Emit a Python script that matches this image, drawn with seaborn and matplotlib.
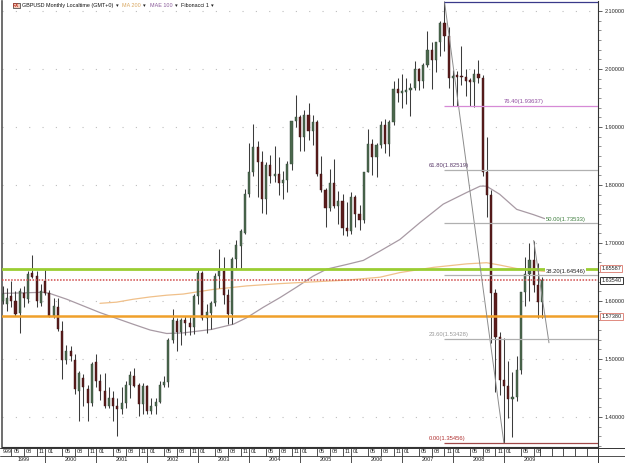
import numpy as np
import pandas as pd
import matplotlib
matplotlib.use("Agg")
import matplotlib.pyplot as plt
import matplotlib.transforms as mtransforms
from matplotlib.lines import Line2D
import seaborn as sns

# monthly GBPUSD candles, first one is Mar 1999, last one Oct 2009
first_month = "1999-03"
opens = [1.600, 1.594, 1.609, 1.600, 1.580, 1.614, 1.603, 1.649, 1.643, 1.597,
         1.634, 1.614, 1.574, 1.590, 1.548, 1.499, 1.514, 1.499, 1.445, 1.468, 1.448, 1.425,
         1.494, 1.462, 1.445, 1.419, 1.433, 1.419, 1.413, 1.425, 1.455, 1.471, 1.455, 1.422,
         1.453, 1.410, 1.419, 1.426, 1.456, 1.461, 1.532, 1.566, 1.546, 1.568, 1.562, 1.555,
         1.609, 1.649, 1.571, 1.580, 1.597, 1.643, 1.652, 1.610, 1.577, 1.672, 1.695, 1.718,
         1.784, 1.822, 1.866, 1.840, 1.775, 1.834, 1.815, 1.819, 1.803, 1.809, 1.837, 1.910,
         1.918, 1.883, 1.921, 1.893, 1.909, 1.819, 1.792, 1.760, 1.804, 1.764, 1.772, 1.725,
         1.720, 1.779, 1.750, 1.739, 1.822, 1.870, 1.848, 1.869, 1.904, 1.871, 1.909, 1.966,
         1.959, 1.961, 1.963, 1.967, 2.000, 1.980, 2.007, 2.033, 2.015, 2.046, 2.080, 2.057,
         1.985, 1.988, 1.987, 1.986, 1.980, 1.978, 1.991, 1.985, 1.822, 1.783, 1.613, 1.538,
         1.463, 1.454, 1.431, 1.434, 1.481, 1.616, 1.646, 1.670, 1.628, 1.598]
highs = [1.626, 1.623, 1.635, 1.617, 1.623, 1.626, 1.652, 1.679, 1.652, 1.629,
         1.656, 1.619, 1.606, 1.606, 1.566, 1.525, 1.522, 1.508, 1.479, 1.474, 1.456, 1.494,
         1.508, 1.474, 1.476, 1.451, 1.445, 1.433, 1.451, 1.462, 1.479, 1.485, 1.459, 1.459,
         1.456, 1.433, 1.432, 1.462, 1.471, 1.537, 1.586, 1.571, 1.571, 1.575, 1.573, 1.612,
         1.655, 1.652, 1.594, 1.600, 1.648, 1.689, 1.675, 1.620, 1.675, 1.706, 1.724, 1.793,
         1.872, 1.905, 1.875, 1.859, 1.840, 1.851, 1.867, 1.849, 1.824, 1.842, 1.911, 1.955,
         1.920, 1.930, 1.941, 1.920, 1.912, 1.850, 1.795, 1.827, 1.845, 1.789, 1.784, 1.770,
         1.788, 1.783, 1.765, 1.822, 1.897, 1.879, 1.872, 1.911, 1.913, 1.912, 1.979, 1.985,
         1.991, 1.984, 1.975, 2.014, 2.002, 2.011, 2.066, 2.047, 2.047, 2.083, 2.116, 2.072,
         1.999, 1.996, 2.040, 2.000, 1.985, 2.000, 2.016, 1.990, 1.882, 1.792, 1.620, 1.547,
         1.537, 1.497, 1.478, 1.505, 1.616, 1.675, 1.700, 1.704, 1.665, 1.642]
lows = [1.594, 1.583, 1.589, 1.574, 1.545, 1.589, 1.597, 1.640, 1.589, 1.591,
        1.611, 1.572, 1.571, 1.549, 1.465, 1.491, 1.497, 1.439, 1.393, 1.419, 1.393, 1.419,
        1.451, 1.430, 1.416, 1.416, 1.393, 1.367, 1.405, 1.416, 1.433, 1.451, 1.402, 1.405,
        1.405, 1.405, 1.406, 1.425, 1.451, 1.451, 1.528, 1.514, 1.525, 1.541, 1.542, 1.543,
        1.595, 1.568, 1.544, 1.551, 1.591, 1.623, 1.595, 1.560, 1.560, 1.655, 1.655, 1.715,
        1.779, 1.816, 1.780, 1.752, 1.750, 1.803, 1.806, 1.783, 1.775, 1.788, 1.826, 1.900,
        1.859, 1.859, 1.877, 1.869, 1.815, 1.788, 1.727, 1.756, 1.760, 1.733, 1.714, 1.712,
        1.716, 1.727, 1.723, 1.734, 1.822, 1.817, 1.813, 1.864, 1.856, 1.850, 1.903, 1.943,
        1.933, 1.939, 1.919, 1.964, 1.964, 1.967, 2.004, 1.965, 1.995, 2.022, 2.031, 1.967,
        1.937, 1.937, 1.972, 1.953, 1.937, 1.934, 1.976, 1.816, 1.744, 1.528, 1.443, 1.438,
        1.35456, 1.399, 1.366, 1.428, 1.474, 1.592, 1.600, 1.616, 1.571, 1.571]
closes = [1.612, 1.606, 1.600, 1.577, 1.617, 1.606, 1.646, 1.641, 1.600, 1.617,
          1.614, 1.574, 1.591, 1.551, 1.499, 1.514, 1.505, 1.448, 1.476, 1.451, 1.425, 1.491,
          1.462, 1.445, 1.419, 1.433, 1.419, 1.413, 1.425, 1.456, 1.472, 1.453, 1.422, 1.453,
          1.410, 1.419, 1.426, 1.456, 1.461, 1.533, 1.568, 1.546, 1.568, 1.562, 1.555, 1.609,
          1.649, 1.571, 1.581, 1.597, 1.643, 1.652, 1.610, 1.577, 1.672, 1.697, 1.721, 1.784,
          1.822, 1.866, 1.840, 1.775, 1.834, 1.815, 1.819, 1.803, 1.809, 1.837, 1.910, 1.918,
          1.883, 1.921, 1.893, 1.909, 1.819, 1.792, 1.760, 1.804, 1.764, 1.772, 1.725, 1.720,
          1.779, 1.750, 1.739, 1.822, 1.870, 1.848, 1.869, 1.904, 1.871, 1.909, 1.966, 1.959,
          1.961, 1.963, 1.967, 2.000, 1.980, 2.007, 2.033, 2.015, 2.046, 2.080, 2.057, 1.985,
          1.988, 1.987, 1.986, 1.980, 1.978, 1.991, 1.985, 1.822, 1.783, 1.613, 1.538, 1.463,
          1.454, 1.431, 1.434, 1.481, 1.616, 1.646, 1.670, 1.628, 1.598, 1.6354]

# indicator lines (candle index, price)
ma200_i = [22.9, 26.8, 30.7, 34.7, 38.6, 42.5, 49.6, 57.4, 65.3, 73.1, 81.0, 88.8, 93.5,
           101.4, 109.2, 113.9, 117.0, 121.0, 124.9, 127.6]
ma200_v = [1.596, 1.598, 1.603, 1.607, 1.610, 1.612, 1.620, 1.626, 1.630, 1.633, 1.636, 1.641,
           1.649, 1.658, 1.664, 1.666, 1.662, 1.656, 1.653, 1.651]
mae100_i = [-0.6, 9.5, 11.1, 15.1, 22.9, 26.8, 30.7, 34.7, 38.6, 42.5, 49.2, 54.3, 57.4, 61.3,
            65.3, 69.2, 73.1, 76.3, 81.0, 84.9, 88.8, 93.5, 98.2, 103.7, 109.2, 112.4, 113.9,
            117.0, 121.0, 124.9, 127.6]
mae100_v = [1.613, 1.615, 1.613, 1.603, 1.580, 1.570, 1.560, 1.550, 1.544, 1.545, 1.551, 1.560,
            1.571, 1.589, 1.606, 1.624, 1.643, 1.655, 1.663, 1.670, 1.686, 1.706, 1.735, 1.767,
            1.787, 1.798, 1.798, 1.784, 1.758, 1.749, 1.742]

# fibonacci retracement drawn from the Nov 2007 high to the Jan 2009 low
fib_from = 104
fib_to = 118
fib_high = 2.11609
fib_low = 1.35456
fib_pct = [100.0, 76.4, 61.8, 50.0, 38.2, 23.6, 0.0]
fib_colors = ["#3a3a8a", "#d68ad6", "#b0b0b0", "#b0b0b0", "#b0b0b0", "#b0b0b0", "#a04848"]
fib_text_colors = [None, "#8e4a9e", "#5a3a6a", "#3f7f3f", "#222222", "#9a9a9a", "#b03030"]
fib_text_side = [None, "right", "left", "far", "far", "left", "left"]
# trend line from the Aug 2009 high
trend_i = [125, 128.6]
trend_v = [1.7043, 1.528]

level_green = 1.65587
level_bid = 1.63540
level_orange = 1.57380

W, H = 625, 463
sns.set_style("white")
plt.rcParams["font.family"] = ["Liberation Sans", "DejaVu Sans"]

fig = plt.figure(figsize=(W / 100, H / 100), dpi=100)
ax = fig.add_axes([2 / W, 16 / H, 596 / W, 446 / H])
ax.set_xlim(-0.165, 140.14)
ax.set_ylim(1.3483, 2.1172)

df = pd.DataFrame({"open": opens, "high": highs, "low": lows, "close": closes})
df["i"] = np.arange(len(df))
df["up"] = df["close"] >= df["open"]

# candles
ax.vlines(df["i"], df["low"], df["high"], color="#3c3c3c", lw=0.75, zorder=3)
body = (df["close"] - df["open"]).abs().clip(lower=0.0025)
bottom = df[["open", "close"]].min(axis=1)
ax.bar(df["i"][df["up"]], body[df["up"]], bottom=bottom[df["up"]], width=0.5,
       color="#4b684c", edgecolor="#33483a", lw=0.3, zorder=4)
ax.bar(df["i"][~df["up"]], body[~df["up"]], bottom=bottom[~df["up"]], width=0.5,
       color="#5c1d1d", edgecolor="#3a1010", lw=0.3, zorder=4)

# moving averages
sns.lineplot(x=mae100_i, y=mae100_v, ax=ax, color="#a89aa4", lw=0.9, zorder=2)
sns.lineplot(x=ma200_i, y=ma200_v, ax=ax, color="#f0c08a", lw=0.9, zorder=2)

# horizontal levels
ax.axhline(level_green, color="#9acd32", lw=2.0, zorder=5)
ax.axhline(level_bid, color="#d04a4a", lw=1.1, ls=(0, (1, 1)), zorder=5)
ax.axhline(level_orange, color="#f0a02a", lw=1.8, zorder=5)

# fibonacci
xr = ax.get_xlim()[1]
ax.plot([fib_from, fib_to], [fib_high, fib_low], color="#8c8c8c", lw=0.7, zorder=6)
sns.lineplot(x=trend_i, y=trend_v, ax=ax, color="#8c8c8c", lw=0.7, zorder=6)
for pct, col, tcol, side in zip(fib_pct, fib_colors, fib_text_colors, fib_text_side):
    lvl = fib_low + (fib_high - fib_low) * pct / 100
    ax.hlines(lvl, fib_from, xr, color=col, lw=0.9, zorder=6)
    if tcol is None:
        continue
    label = f"{pct:.2f}({lvl:.5f})"
    if side == "left":
        ax.text(100.3, lvl + 0.004, label, color=tcol, fontsize=4.2, ha="left", va="bottom", zorder=7)
    elif side == "right":
        ax.text(127.3, lvl + 0.004, label, color=tcol, fontsize=4.2, ha="right", va="bottom", zorder=7)
    else:
        ax.text(127.8, lvl + 0.006, label, color=tcol, fontsize=4.2, ha="left", va="center", zorder=7,
                bbox=dict(fc="white", ec="none", pad=0.3))

# right price axis
ax.yaxis.tick_right()
ax.set_yticks(np.arange(1.4, 2.1001, 0.1))
ax.set_yticks(np.arange(1.35, 2.11, 0.1 / 6), minor=True)
ax.set_yticklabels([f"{v:.5f}" for v in np.arange(1.4, 2.1001, 0.1)], fontsize=4.0)
ax.tick_params(axis="y", which="major", direction="out", length=3, width=0.6, color="#444", pad=1.5)
ax.tick_params(axis="y", which="minor", direction="out", length=2, width=0.5, color="#666")
ax.set_xticks([])
ax.yaxis.grid(True, which="major", ls=(0, (1, 11)), color="#bdbdbd", lw=0.8)
ax.spines["top"].set_visible(False)
ax.spines["left"].set_color("#555555")
ax.spines["left"].set_linewidth(1.2)
ax.spines["right"].set_color("#333333")
ax.spines["right"].set_linewidth(0.8)
ax.spines["bottom"].set_color("#333333")
ax.spines["bottom"].set_linewidth(0.8)

# current level boxes on the price axis
yx = mtransforms.blended_transform_factory(ax.transAxes, ax.transData)
for val, ec in [(level_green, "#e08a80"), (level_bid, "#333333"), (level_orange, "#e08a80")]:
    ax.text(1.0055, val, f"{val:.5f}", transform=yx, fontsize=4.0, ha="left", va="center",
            color="#222", bbox=dict(boxstyle="square,pad=0.2", fc="white", ec=ec, lw=0.7), clip_on=False)

# bottom time scale, two rows
axb = fig.add_axes([2 / W, 0, 596 / W, 16 / H], sharex=ax)
axb.set_ylim(16, 0)
axb.axis("off")
years = list(range(1999, 2010))
for y in years:
    for m in [1, 5, 8, 11]:
        t = (y - 1999) * 12 + m - 3
        if t < 0 or t > 125:
            continue
        axb.vlines(t, 0.5, 8.5, color="#333", lw=0.6)
        axb.text(t + 0.5, 4.6, f"{m:02d}", fontsize=4.0, ha="left", va="center", color="#222")
    jan = (y - 1999) * 12 - 2
    if jan > 0:
        axb.vlines(jan, 8.5, 16, color="#333", lw=0.6)
    lo = max(jan, -0.165)
    hi = min(jan + 12, 140.14)
    axb.text((lo + hi) / 2, 12.4, str(y), fontsize=4.0, ha="center", va="center", color="#222")
axb.text(-0.1, 4.6, "999", fontsize=4.0, ha="left", va="center", color="#222")
for t in [126.5, 129.2, 132.0, 134.7, 137.5]:
    axb.vlines(t, 0.5, 8.5, color="#333", lw=0.6)

fig.add_artist(Line2D([0, 1], [1 - 456 / H, 1 - 456 / H], color="#333", lw=0.6))
fig.add_artist(Line2D([0, 1], [1 - 447.5 / H, 1 - 447.5 / H], color="#333", lw=0.7))
fig.add_artist(Line2D([598 / W, 598 / W], [0, 16 / H], color="#333", lw=0.7))

# header
hy = 1 - 5.5 / H
fig.text(13 / W, hy, "FX", fontsize=3.5, color="#c03020", va="center", ha="left", weight="bold",
         bbox=dict(fc="#f4d0c0", ec="#333", lw=0.5, pad=0.3))
header = [(22, "GBPUSD Monthly Localtime (GMT+0)", "#111"), (116, "\u25be", "#222"),
          (122, "MA 200", "#d9a760"), (143, "\u25be", "#222"), (150, "MAE 100", "#8a5a9a"),
          (175, "\u25be", "#222"), (181, "Fibonacci 1", "#111"), (211, "\u25be", "#222")]
for px, txt, col in header:
    fig.text(px / W, hy, txt, fontsize=3.9, color=col, va="center", ha="left")

fig.savefig("out.png", dpi=100)
